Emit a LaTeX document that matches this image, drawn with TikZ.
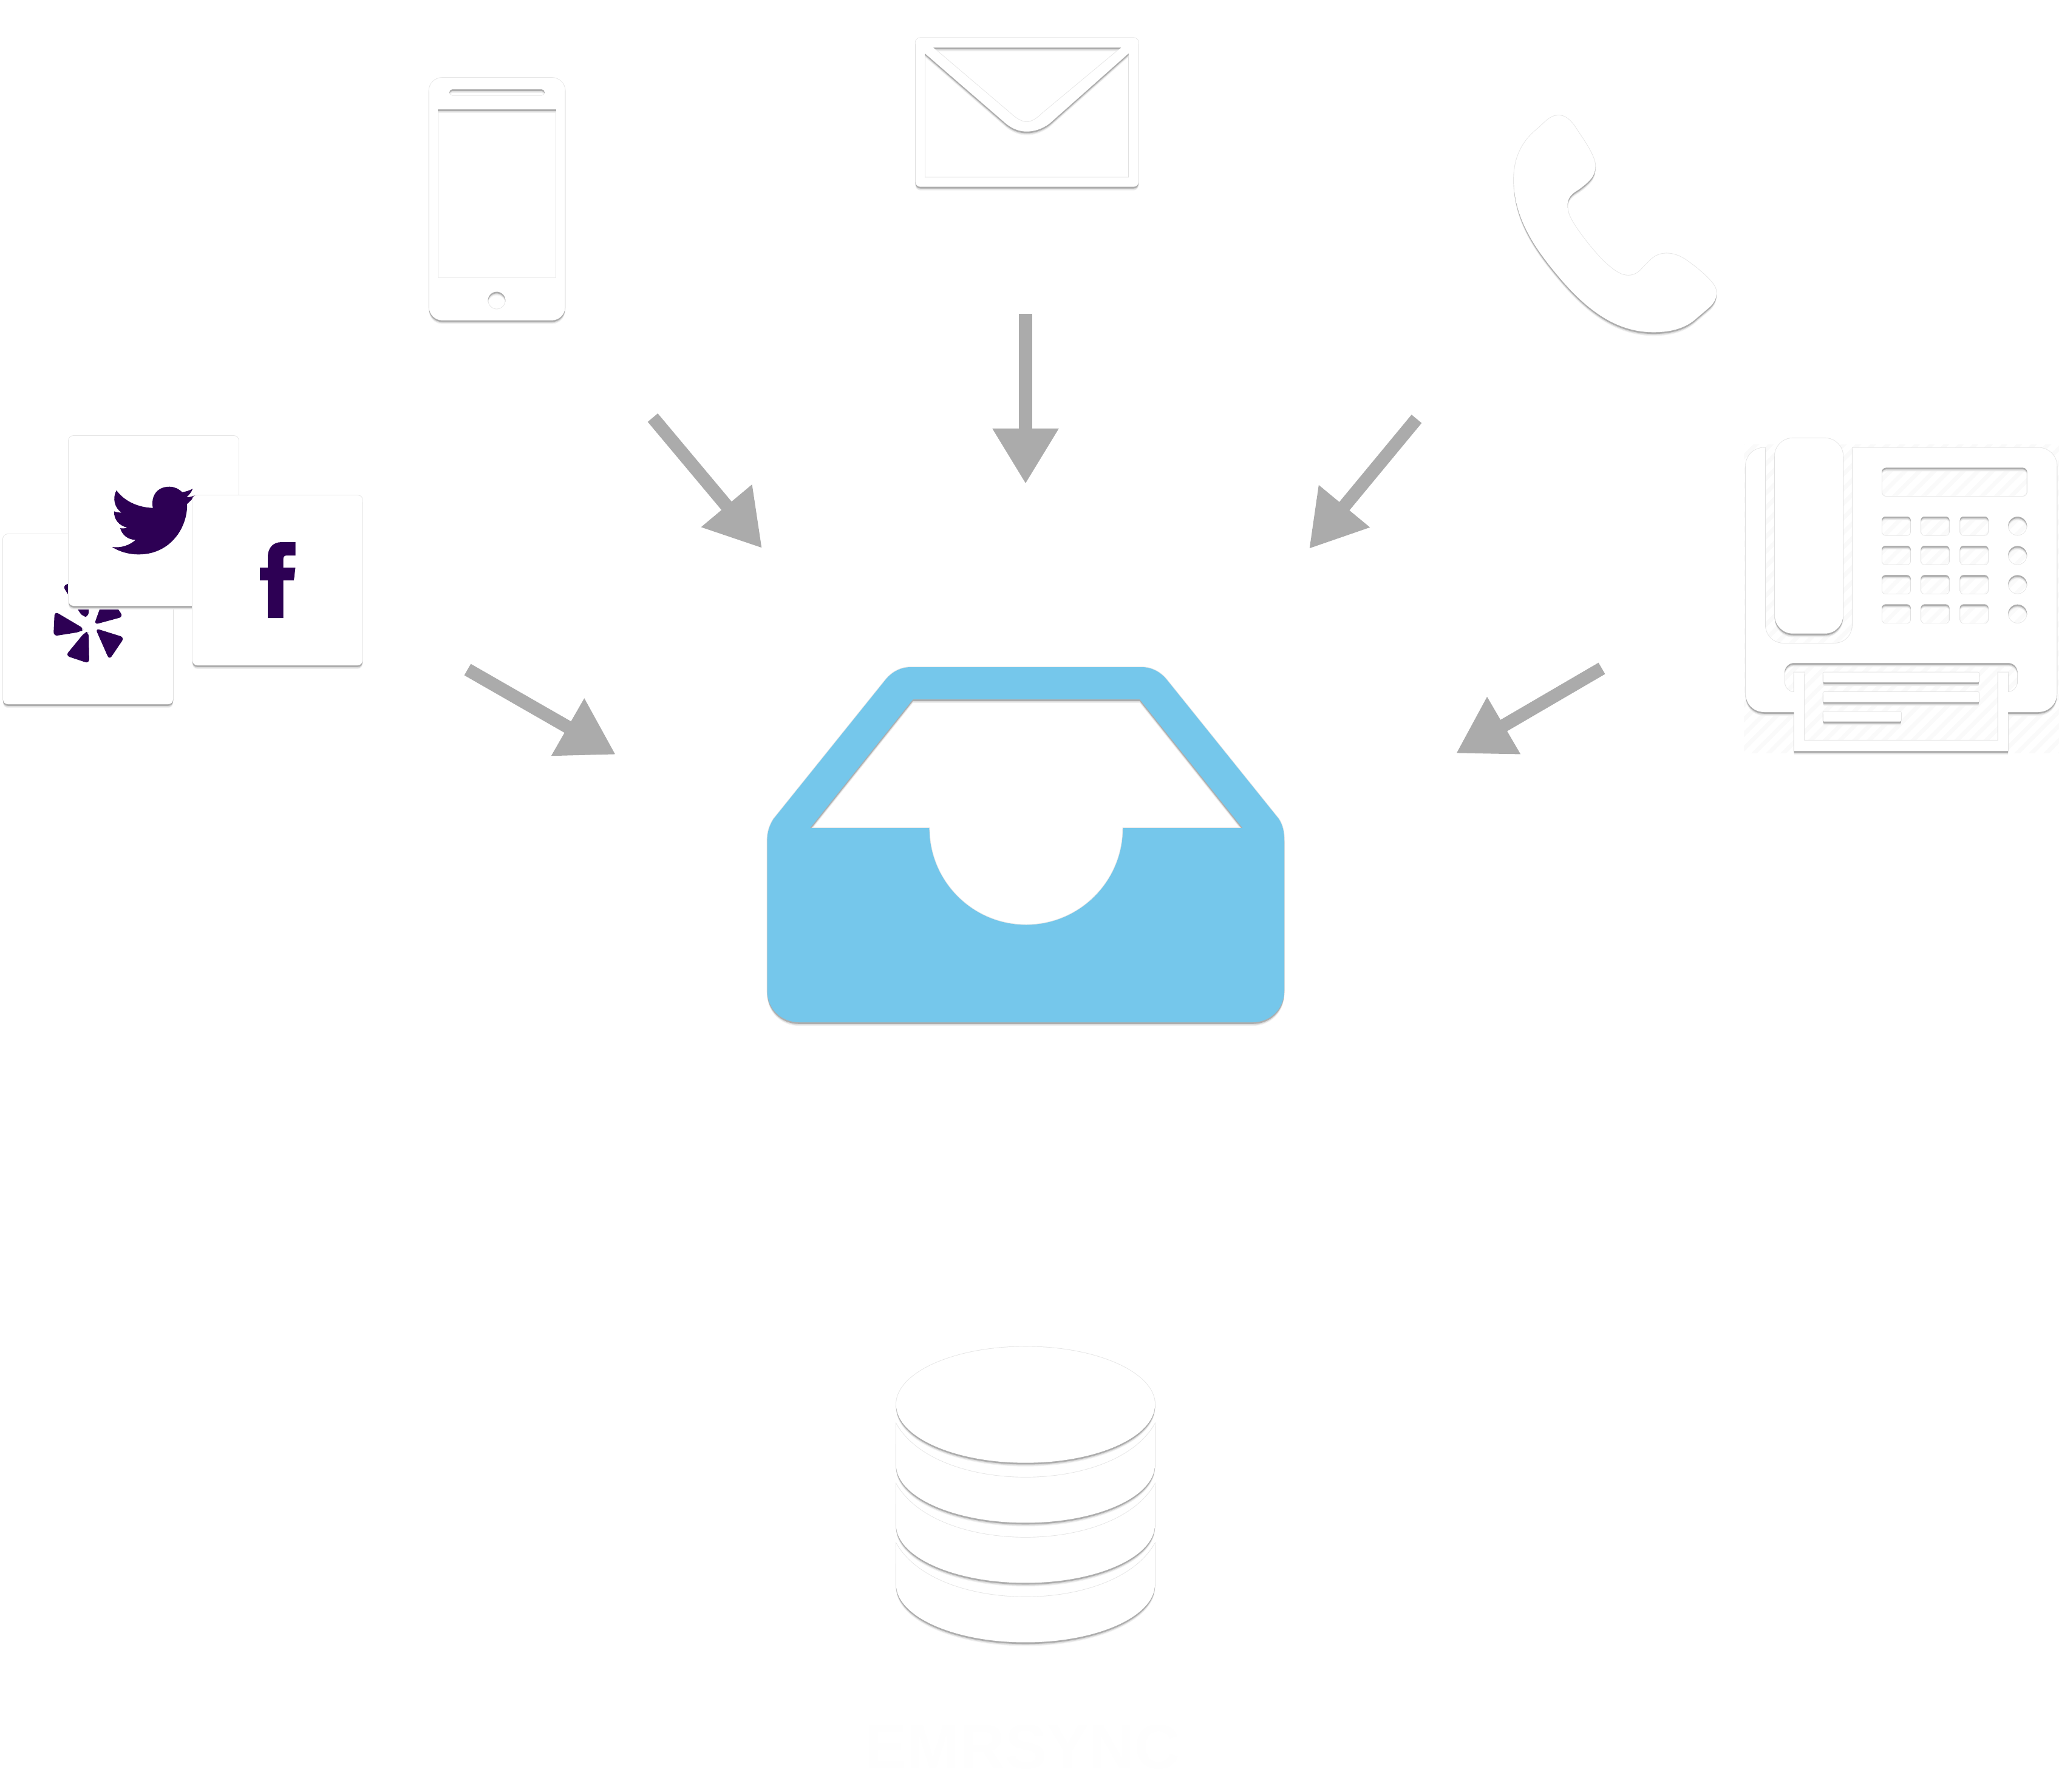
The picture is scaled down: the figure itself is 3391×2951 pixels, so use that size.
\documentclass[tikz,border=0pt]{standalone}
\usepackage{tikz}
\usepackage{fontspec}
\setmainfont{Liberation Sans}
\usetikzlibrary{arrows.meta}
\usetikzlibrary{patterns.meta}
% white icon with its edge line and soft drop shadow
\newcommand{\softicon}[2]{
	\draw[iconedge](0,0)#2;
	\fill[iconhaze,even odd rule,yshift=-0.06cm](0,0)#2;
	\fill[iconmist,even odd rule,yshift=-0.045cm](0,0)#2;
	\fill[iconshade,even odd rule,yshift=-0.028cm](0,0)#2;
	\fill[#1,even odd rule](0,0)#2;
}

\begin{document}
\begin{tikzpicture}[x=0.01cm,y=-0.01cm,>={Triangle[width=1.03cm,length=0.91cm]}]
		\definecolor{inboxblue}{HTML}{75C7EB}
		\definecolor{brandpurple}{HTML}{2D0054}
		\definecolor{arrowgray}{HTML}{ABABAB}
		\definecolor{hatchgray}{HTML}{FAFAFA}
		\definecolor{labelwhite}{HTML}{FEFEFE}
		\tikzstyle{iconedge}=[draw=black!10,line width=0.018cm];
		\tikzstyle{iconhaze}=[black!6];
		\tikzstyle{iconmist}=[black!14];
		\tikzstyle{iconshade}=[black!32];
		\tikzstyle{flowarrow}=[->,draw=arrowgray,fill=arrowgray,line width=0.216cm];
		\tikzstyle{brandmark}=[brandpurple,rounded corners=0.07cm];
		\tikzstyle{faxhatch}=[pattern={Lines[angle=45,distance=0.17cm,line width=0.07cm]},pattern color=hatchgray];
		\tikzstyle{synclabel}=[text=labelwhite,font=\fontsize{29.5}{31}\selectfont\bfseries];
		\useasboundingbox(0,0)rectangle(3391,2951);

		% smartphone
		\softicon{white}{(706.5,128)[rounded corners=0.22cm]--(930.7,128)--(930.7,527.7)--(706.5,527.7)--cycle
			[sharp corners](721,180)rectangle(916,457.7)
			[rounded corners=0.05cm](740,147)rectangle(897,157.7)
			[sharp corners](818,495)circle[radius=0.145cm]}

		% envelope
		\softicon{white}{[rounded corners=0.08cm](1507.7,62.3)rectangle(1875,307.7)[sharp corners]
			(1536.7,78.3)--(1846.8,78.3)--(1716.6,186.7).. controls (1706,197) and (1698,201) ..(1691,201).. controls (1684,201) and (1675,197) ..(1664,186.7)--cycle
			(1523,87.7)--(1656.3,203.3).. controls (1668,213) and (1680,216.7) ..(1691,216.7).. controls (1702,216.7) and (1716,213) ..(1728.7,203.3)--(1858.9,87.7)--(1858.9,292.3)--(1523,292.3)--cycle}

		% handset
		\softicon{white}{(2566.7,190).. controls (2551.7,190) and (2543.3,203.3) ..(2530,214).. controls (2506.7,233.3) and (2493,260) ..(2493,296.7).. controls (2493,363.3) and (2533.3,416.7) ..(2573.3,463.3).. controls (2620,516.7) and (2666.7,547.3) ..(2723.3,547.3).. controls (2753.3,547.3) and (2776.7,540) ..(2793.3,525)--(2816.7,505).. controls (2828.3,493.3) and (2830,480) ..(2821.7,468.3).. controls (2810,453.3) and (2793.3,440) ..(2776.7,428.3).. controls (2760,416.7) and (2736.7,411.7) ..(2720,426.7)--(2705,441.7).. controls (2696.7,451.7) and (2686.7,456) ..(2673.3,452.7).. controls (2653.3,446.7) and (2626.7,416.7) ..(2606.7,390).. controls (2586.7,363.3) and (2580,350) ..(2581.7,335).. controls (2583.3,323.3) and (2590,318.3) ..(2600,312.3).. controls (2616.7,300) and (2628.3,290) ..(2627.3,273.3).. controls (2626.7,256.7) and (2610,233.3) ..(2596.7,213.3).. controls (2586.7,196.7) and (2576.7,190) ..(2566.7,190)--cycle}

		% fax machine
		\fill[faxhatch](2872,732)rectangle(3391,1240);
		\softicon{white}{(2907,737.5)--(2907,1029).. controls (2907,1047) and (2920,1060) ..(2938,1060)--(3020,1060).. controls (3038,1060) and (3050.8,1047) ..(3050.8,1029)--(3050.8,737.5)--(3356,737.5).. controls (3374,737.5) and (3387.6,751) ..(3387.6,769)--(3387.6,1142).. controls (3387.6,1160) and (3374,1173) ..(3356,1173)--(3307.2,1173)--(3307.2,1237)--(2954.6,1237)--(2954.6,1173)--(2906,1173).. controls (2888,1173) and (2874.8,1160) ..(2874.8,1142)--(2874.8,769).. controls (2874.8,751) and (2888,737.5) ..(2906,737.5)--cycle
			[rounded corners=0.07cm](3099,770.4)rectangle(3338.6,817.9)
			[rounded corners=0.06cm](3099,850.8)rectangle(3146.8,882.5)(3163.3,850.8)rectangle(3210.6,882.5)(3227.5,850.8)rectangle(3274.8,882.5)
			(3099,899)rectangle(3146.8,930.8)(3163.3,899)rectangle(3210.6,930.8)(3227.5,899)rectangle(3274.8,930.8)
			(3099,947.2)rectangle(3146.8,979)(3163.3,947.2)rectangle(3210.6,979)(3227.5,947.2)rectangle(3274.8,979)
			(3099,995.4)rectangle(3146.8,1027.2)(3163.3,995.4)rectangle(3210.6,1027.2)(3227.5,995.4)rectangle(3274.8,1027.2)
			[sharp corners](3322.7,866.7)circle[radius=0.157cm](3322.7,915)circle[radius=0.157cm](3322.7,963)circle[radius=0.157cm](3322.7,1011.3)circle[radius=0.157cm]
			(2954.6,1140).. controls (2945,1140) and (2939,1132) ..(2939,1124)--(2939,1108).. controls (2939,1099) and (2946,1092) ..(2955,1092)--(3307,1092).. controls (3316,1092) and (3322.7,1099) ..(3322.7,1108)--(3322.7,1124).. controls (3322.7,1132) and (3316,1140) ..(3307.2,1140)--(3307.2,1107.6)--(3290.6,1107.6)--(3290.6,1219.8)--(2971.5,1219.8)--(2971.5,1107.6)--(2954.6,1107.6)--cycle
			[rounded corners=0.02cm](3002.5,1107.6)rectangle(3259.2,1124)(3002.5,1140)rectangle(3259.2,1156.6)(3002.5,1172.3)rectangle(3130.9,1188.7)}
		\softicon{white}{[rounded corners=0.3cm](2922.8,721.8)rectangle(3035.3,1043.7)}

		% yelp, twitter and facebook cards
		\softicon{white}{[rounded corners=0.08cm](5,880)rectangle(285,1160)}
		\fill[brandmark](103,965)--(146,950)--(146,1016)--(136,1016)--cycle;
		\fill[brandmark](90,1007)--(139,1036)--(132,1041)--(88,1048)--cycle;
		\fill[brandmark](146,1041)--(140,1041)--(108,1080)--(147,1093)--cycle;
		\fill[brandmark](157,1035)--(205,1050)--(180,1087)--cycle;
		\fill[brandmark](155,1029)--(169,990)--(189,995)--(203,1016)--cycle;
		\softicon{white}{[rounded corners=0.08cm](113,718)rectangle(393,998)}
		\fill[brandpurple](191.8,807.7).. controls (205,826) and (228,836) ..(251.8,836.7).. controls (248,818) and (258,801.7) ..(278.8,801.7).. controls (287,801.7) and (294,805) ..(300,810.7).. controls (306,810) and (312,808) ..(317.6,805).. controls (315,811) and (311,816) ..(307,819.3).. controls (312,819) and (317,818) ..(321.2,815.7).. controls (318,821) and (313,826) ..(308.2,830).. controls (309,870) and (280,913.3) ..(228.6,913.3).. controls (212,913.3) and (197,909) ..(184.5,901).. controls (200,903) and (214,898) ..(223.3,889.3).. controls (210,889) and (201,881) ..(198,870).. controls (202,871) and (206,870.5) ..(209.4,869).. controls (196,866) and (187.5,856) ..(187.8,842.3).. controls (192,844) and (196,844.5) ..(200,844.3).. controls (188,836) and (185,820) ..(191.8,807.7)--cycle;
		\softicon{white}{[rounded corners=0.08cm](317,816)rectangle(597,1096)}
		\fill[brandpurple](441,1018)--(441,956)--(428,956)--(428,935)--(441,935)--(441,918).. controls (441,902) and (450,893) ..(464,893)--(486.5,893)--(486.5,915)--(473,915).. controls (468,915) and (466.5,917) ..(466.5,922)--(466.5,935)--(486.5,935)--(484,956)--(466.5,956)--(466.5,1018)--cycle;

		% inbox tray
		\softicon{inboxblue}{(1263.5,1385).. controls (1263.5,1371) and (1267,1360) ..(1274,1349)--(1459,1119).. controls (1470,1106) and (1484,1099) ..(1500,1099)--(1880,1099).. controls (1896,1099) and (1910,1106) ..(1921,1119)--(2106,1349).. controls (2113,1360) and (2115,1371) ..(2115,1385)--(2115,1632).. controls (2115,1662) and (2092,1684) ..(2063,1684)--(1316,1684).. controls (1287,1684) and (1263.5,1662) ..(1263.5,1632)--cycle
			(1503.5,1152)--(1877,1152)--(2046.5,1364)--(1849.4,1364)arc[start angle=0,end angle=-180,radius=1.594cm]--(1334,1364)--cycle}

		% database
		\softicon{white}{(1476,2346).. controls (1510,2405) and (1600,2433.8) ..(1689,2433.8).. controls (1778,2433.8) and (1868,2405) ..(1902,2346)--(1902,2413)arc[start angle=0,end angle=-180,x radius=2.13cm,y radius=0.954cm]--cycle}
		\softicon{white}{(1476,2445).. controls (1510,2504) and (1600,2532.8) ..(1689,2532.8).. controls (1778,2532.8) and (1868,2504) ..(1902,2445)--(1902,2512)arc[start angle=0,end angle=-180,x radius=2.13cm,y radius=0.954cm]--cycle}
		\softicon{white}{(1476,2543).. controls (1510,2602) and (1600,2630.8) ..(1689,2630.8).. controls (1778,2630.8) and (1868,2602) ..(1902,2543)--(1902,2610)arc[start angle=0,end angle=-180,x radius=2.13cm,y radius=0.954cm]--cycle}
		\softicon{white}{(1689,2314)ellipse[x radius=2.13cm,y radius=0.956cm]}
		\node[synclabel](sync)at(1684,2878){EMRSYNC};

		% arrows towards the tray
		\coordinate(phone0)at(1075,688);
		\coordinate(phone1)at(1255,903);
		\coordinate(mail0)at(1689,517);
		\coordinate(mail1)at(1689,797);
		\coordinate(call0)at(2333,690);
		\coordinate(call1)at(2156,904);
		\coordinate(social0)at(770,1103);
		\coordinate(social1)at(1014,1243);
		\coordinate(fax0)at(2638,1101);
		\coordinate(fax1)at(2398,1241);
		\draw[flowarrow](phone0)--(phone1);
		\draw[flowarrow](mail0)--(mail1);
		\draw[flowarrow](call0)--(call1);
		\draw[flowarrow](social0)--(social1);
		\draw[flowarrow](fax0)--(fax1);
	\end{tikzpicture}
\end{document}
